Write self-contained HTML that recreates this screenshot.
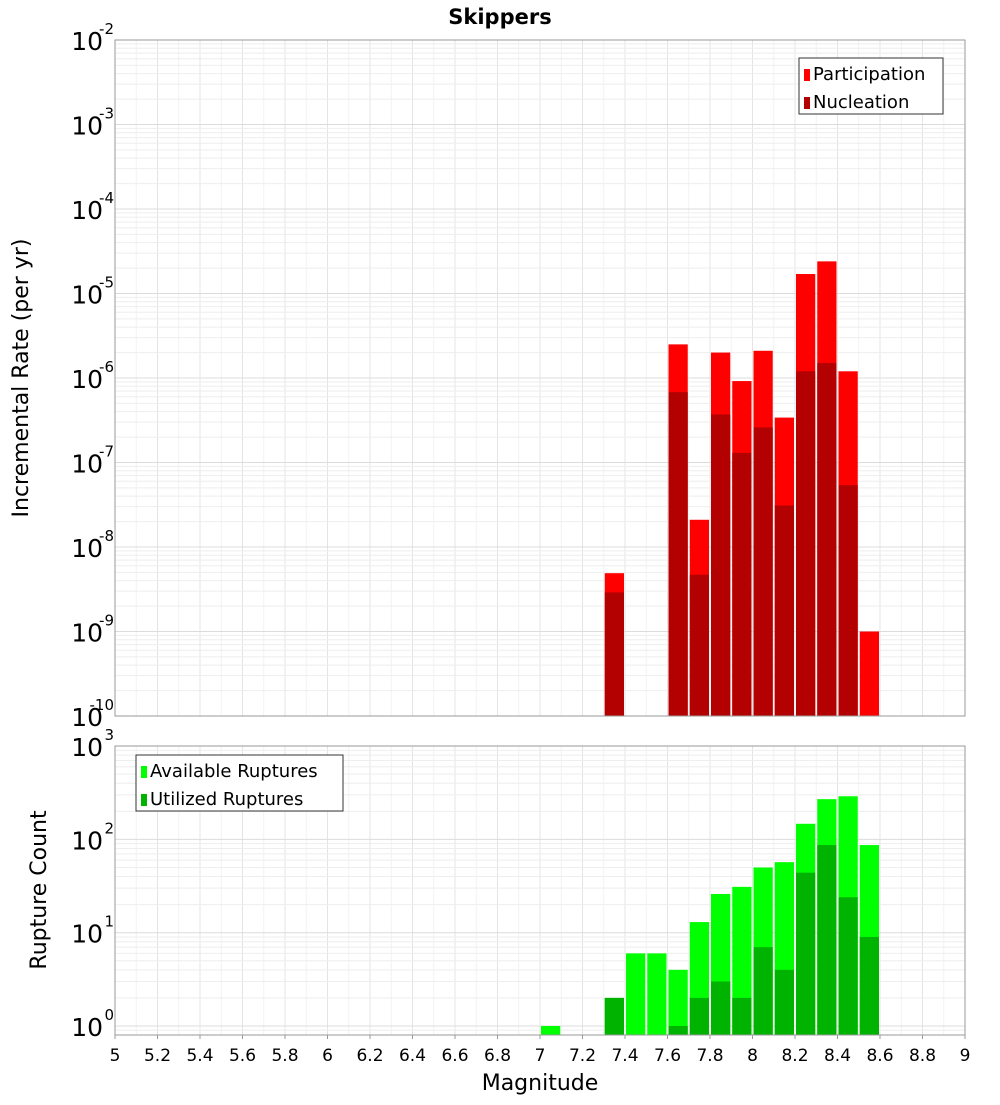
<!DOCTYPE html>
<html><head><meta charset="utf-8"><style>
body{margin:0;background:#fff;}
svg text{font-family:"DejaVu Sans","Liberation Sans",sans-serif;}
</style></head><body>
<svg id="c" width="1000" height="1100" xmlns="http://www.w3.org/2000/svg">
<text x="500" y="24" text-anchor="middle" font-size="21" font-weight="bold">Skippers</text>
<g id="topPanel"></g><g id="botPanel"></g>
<text transform="translate(28,378) rotate(-90)" text-anchor="middle" font-size="22">Incremental Rate (per yr)</text>
<text transform="translate(46,890) rotate(-90)" text-anchor="middle" font-size="22">Rupture Count</text>
<text x="540" y="1090" text-anchor="middle" font-size="22">Magnitude</text>
</svg>
<script>
const mags=[7.05,7.35,7.45,7.55,7.65,7.75,7.85,7.95,8.05,8.15,8.25,8.35,8.45,8.55];
const participation=[0,4.9e-9,0,0,2.5e-6,2.1e-8,2.0e-6,9.2e-7,2.1e-6,3.4e-7,1.7e-5,2.4e-5,1.2e-6,1.0e-9];
const nucleation=[0,2.9e-9,0,0,6.8e-7,4.7e-9,3.7e-7,1.3e-7,2.6e-7,3.1e-8,1.2e-6,1.5e-6,5.4e-8,0];
const available=[1,2,6,6,4,13,26,31,50,57,147,270,290,87];
const utilized=[0,2,0,0,1,2,3,2,7,4,44,87,24,9];
const xTicks=["5","5.2","5.4","5.6","5.8","6","6.2","6.4","6.6","6.8","7","7.2","7.4","7.6","7.8","8","8.2","8.4","8.6","8.8","9"];
const topExps=[-2,-3,-4,-5,-6,-7,-8,-9,-10];
const botExps=[0,1,2,3];
const NS="http://www.w3.org/2000/svg";
const X0=115,X1=965;
const xs=m=>X0+(m-5)/4*(X1-X0);
const T0=40,T1=716;
const yTop=v=>T0+(-2-Math.log10(v))*(T1-T0)/8;
const B0=746,B1=1035,BD=93.3,BZ=1026;
const yBot=v=>BZ-Math.log10(v)*BD;
function mk(p,t,a){const e=document.createElementNS(NS,t);for(const k in a)e.setAttribute(k,a[k]);p.appendChild(e);return e;}
function panel(g,ya,yb){
  mk(g,'rect',{x:X0,y:ya,width:X1-X0,height:yb-ya,fill:'#fff'});
  for(let i=0;i<=40;i++){const x=xs(5+i*0.1);const l=mk(g,'line',{x1:x,x2:x,y1:ya,y2:yb,stroke:i%2?'#f2f2f2':'#e4e4e4','stroke-width':1});
  }
}
function hgrid(g,ya,yb,yf,eMin,eMax){
  for(let e=eMin;e<=eMax;e++)for(let k=1;k<10;k++){const y=yf(k*Math.pow(10,e));if(y<ya-0.5||y>yb+0.5)continue;
  const l=mk(g,'line',{x1:X0,x2:X1,y1:y,y2:y,stroke:k==1?'#dcdcdc':'#eeeeee','stroke-width':1});
  }
}
function bars(g,vals,yf,yb,col,name){
  vals.forEach((v,i)=>{if(!v)return;const x=xs(mags[i]-0.05)+1,y=yf(v);
  const r=mk(g,'rect',{x:x,y:y,width:xs(5.1)-xs(5)-2,height:yb-y,fill:col});
  });
}
function ylab(g,y,e,name){
  const t=mk(g,'text',{x:103,y:y+10,'text-anchor':'end','font-size':25});
  t.textContent='10';
  
  const s=mk(g,'text',{x:114,y:y-6,'font-size':15,'text-anchor':'end'});
  s.textContent=String(e);
  
}
function legend(g,x,y,w,items){
  const b=mk(g,'rect',{x:x,y:y,width:w,height:56,fill:'#fff',stroke:'#333'});
  
  items.forEach((it,i)=>{const r=mk(g,'rect',{x:x+5,y:y+11+i*28,width:6,height:12,fill:it[1]});
  
  const t=mk(g,'text',{x:x+14,y:y+22+i*28,'font-size':18});t.textContent=it[0];
  });
}
const gTop=document.getElementById('topPanel'),gBot=document.getElementById('botPanel');
panel(gTop,T0,T1);hgrid(gTop,T0,T1,yTop,-10,-3);
bars(gTop,participation,yTop,T1,'#ff0000','participation');
bars(gTop,nucleation,yTop,T1,'#b30000','nucleation');
mk(gTop,'rect',{x:X0,y:T0,width:X1-X0,height:T1-T0,fill:'none',stroke:'#999'});
topExps.forEach(e=>ylab(gTop,yTop(Math.pow(10,e)),e,'y-tick-top'));
legend(gTop,799,58,144,[['Participation','#ff0000'],['Nucleation','#b30000']]);
panel(gBot,B0,B1);hgrid(gBot,B0,B1,yBot,-1,2);
bars(gBot,available,yBot,B1,'#00ff00','available');
bars(gBot,utilized,yBot,B1,'#00b300','utilized');
mk(gBot,'rect',{x:X0,y:B0,width:X1-X0,height:B1-B0,fill:'none',stroke:'#999'});
botExps.forEach(e=>ylab(gBot,yBot(Math.pow(10,e)),e,'y-tick-bottom'));
legend(gBot,136,755,207,[['Available Ruptures','#00ff00'],['Utilized Ruptures','#00b300']]);
xTicks.forEach((t,i)=>{const x=xs(parseFloat(t));
  const l=mk(gBot,'line',{x1:x,x2:x,y1:B1,y2:B1+4,stroke:'#999'});
  
  const tx=mk(gBot,'text',{x:x,y:1061,'text-anchor':'middle','font-size':17});tx.textContent=t;
  });
</script>
</body></html>
